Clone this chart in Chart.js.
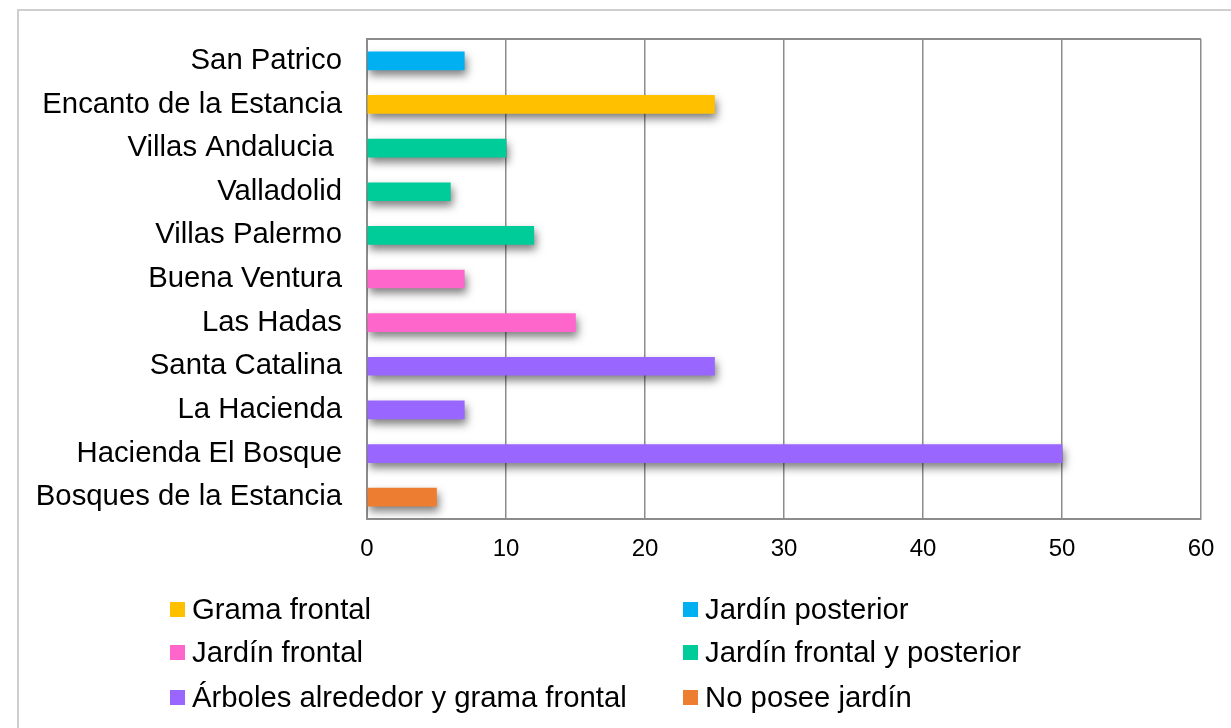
<!DOCTYPE html>
<html lang="es">
<head>
<meta charset="utf-8">
<title>Tipo de jardín por fraccionamiento</title>
<script src="https://cdn.jsdelivr.net/npm/chart.js@4/dist/chart.umd.min.js"></script>
<style>
  html, body { margin: 0; padding: 0; background: #ffffff; overflow: hidden; }
  #stage { position: relative; width: 1231px; height: 728px; overflow: hidden; }
  #frame { position: absolute; left: 17px; top: 9px; width: 1300px; height: 800px;
           border: 2px solid #cfcfcf; pointer-events: none; }
  #chart { position: absolute; left: 0; top: 0; }
  #legend { position: absolute; left: 0; top: 0; width: 1231px; height: 728px; pointer-events: none;
            font-family: "Liberation Sans", Arial, sans-serif; font-size: 29.3px; color: #000; }
  .item { position: absolute; display: flex; align-items: center; white-space: nowrap; height: 34px; }
  .swatch { width: 15px; height: 15px; margin-right: 7px; flex: none; }
</style>
</head>
<body>
<div id="stage">
  <div id="frame"></div>
  <canvas id="chart" width="1231" height="728"></canvas>
  <div id="legend"></div>
</div>
<script>
// Fraccionamientos, listed top to bottom
const categories = [
  'San Patrico',
  'Encanto de la Estancia',
  'Villas Andalucia ',
  'Valladolid',
  'Villas Palermo',
  'Buena Ventura',
  'Las Hadas',
  'Santa Catalina',
  'La Hacienda',
  'Hacienda El Bosque',
  'Bosques de la Estancia'
];

// Value per fraccionamiento
const values = [7, 25, 10, 6, 12, 7, 15, 25, 7, 50, 5];

// Garden type of each fraccionamiento (index into seriesNames)
const seriesOf = [1, 0, 3, 3, 3, 2, 2, 4, 4, 4, 5];

// Garden types, in legend order
const seriesNames = [
  'Grama frontal',
  'Jardín posterior',
  'Jardín frontal',
  'Jardín frontal y posterior',
  'Árboles alrededor y grama frontal',
  'No posee jardín'
];
const seriesColors = ['#FFC000', '#00B0F0', '#FF66CC', '#00CC99', '#9966FF', '#ED7D31'];

// Axis ticks
const xTicks = [0, 10, 20, 30, 40, 50, 60];

const FONT = '"Liberation Sans", Arial, sans-serif';
const GRID = '#8c8c8c';

const datasets = seriesNames.map((name, s) => ({
  label: name,
  data: values.map((v, i) => (seriesOf[i] === s ? v : null)),
  backgroundColor: seriesColors[s],
  borderWidth: 0,
  barThickness: 18
}));

// Soft drop shadow under the bars
const barShadow = {
  id: 'barShadow',
  beforeDatasetsDraw(chart) {
    const c = chart.ctx;
    c.save();
    c.shadowColor = 'rgba(0,0,0,0.5)';
    c.shadowBlur = 8;
    c.shadowOffsetX = 2;
    c.shadowOffsetY = 5;
  },
  afterDatasetsDraw(chart) {
    chart.ctx.restore();
  }
};

// Top edge of the plot frame
const plotFrame = {
  id: 'plotFrame',
  afterDraw(chart) {
    const { ctx, chartArea: a } = chart;
    ctx.save();
    ctx.strokeStyle = GRID;
    ctx.lineWidth = 2;
    ctx.beginPath();
    ctx.moveTo(a.left, a.top);
    ctx.lineTo(a.right, a.top);
    ctx.stroke();
    ctx.restore();
  }
};

const chart = new Chart(document.getElementById('chart'), {
  type: 'bar',
  data: { labels: categories, datasets },
  plugins: [barShadow, plotFrame],
  options: {
    indexAxis: 'y',
    responsive: false,
    animation: false,
    layout: { padding: { top: 39, right: 30, bottom: 150, left: 0 } },
    plugins: {
      legend: { display: false },
      tooltip: { enabled: false }
    },
    scales: {
      x: {
        min: 0,
        max: 60,
        afterBuildTicks(scale) { scale.ticks = xTicks.map(v => ({ value: v })); },
        afterFit(scale) { scale.height = 59; scale.paddingRight = 0; scale.paddingLeft = 0; },
        ticks: { color: '#000', font: { family: FONT, size: 24 }, padding: 16 },
        grid: { color: GRID, lineWidth: 1.5, drawTicks: false },
        border: { color: GRID, width: 2 }
      },
      y: {
        stacked: true,
        afterFit(scale) { scale.width = 367; scale.paddingTop = 0; scale.paddingBottom = 0; },
        ticks: { color: '#000', font: { family: FONT, size: 29.3 }, padding: 25 },
        grid: { display: false, drawTicks: false },
        border: { color: GRID, width: 2 }
      }
    }
  }
});

// Two-column legend under the plot
const legendRows = [609, 652, 697];
const legendCols = [170, 683];
const legendEl = document.getElementById('legend');
seriesNames.forEach((name, s) => {
  const item = document.createElement('div');
  item.className = 'item';
  item.style.left = legendCols[s % 2] + 'px';
  item.style.top = (legendRows[Math.floor(s / 2)] - 17) + 'px';
  const sw = document.createElement('span');
  sw.className = 'swatch';
  sw.style.background = seriesColors[s];
  const tx = document.createElement('span');
  tx.textContent = name;
  item.appendChild(sw);
  item.appendChild(tx);
  legendEl.appendChild(item);
});
</script>
</body>
</html>
